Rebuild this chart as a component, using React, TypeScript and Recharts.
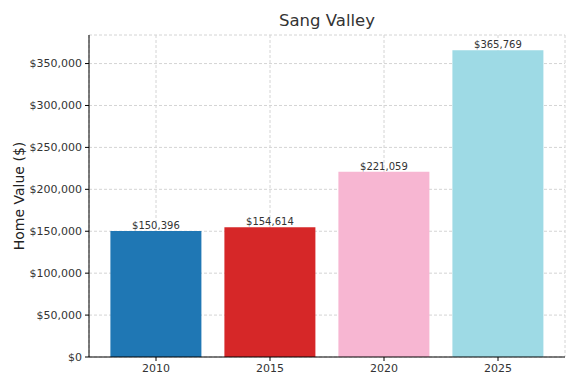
import React from 'react';
import { BarChart, Bar, XAxis, YAxis, CartesianGrid, Cell, LabelList, Label } from 'recharts';

const years = ['2010', '2015', '2020', '2025'];
const homeValues = [150396, 154614, 221059, 365769];
const barColors = ['#1f77b4', '#d62728', '#f7b6d2', '#9edae5'];
const yTicks = [0, 50000, 100000, 150000, 200000, 250000, 300000, 350000];

const data = years.map((year, i) => ({ year, value: homeValues[i] }));

const money = (v: number) => `$${Number(v).toLocaleString('en-US')}`;

const FONT = 'DejaVu Sans, sans-serif';

const App = () => {
  return (
    <div style={{ position: 'absolute', left: 0, top: 0, width: 580, height: 386, background: '#fff', fontFamily: FONT }}>
      <div
        style={{
          position: 'absolute',
          top: 10,
          left: 89,
          width: 476,
          textAlign: 'center',
          fontSize: 16.5,
          color: '#333',
          lineHeight: '22px',
        }}
      >
        Sang Valley
      </div>
      <BarChart
        width={580}
        height={386}
        data={data}
        margin={{ top: 35, right: 15, bottom: 0, left: 0 }}
        barCategoryGap="10%"
      >
        <CartesianGrid strokeDasharray="3 2" stroke="#d4d4d4" />
        <XAxis
          dataKey="year"
          padding={{ left: 10, right: 10 }}
          height={29}
          tickSize={4}
          tickMargin={3}
          axisLine={{ stroke: '#000' }}
          tickLine={{ stroke: '#000' }}
          tick={{ fill: '#333', fontSize: 11, fontFamily: FONT }}
        />
        <YAxis
          width={89}
          domain={[0, 384057]}
          ticks={yTicks}
          tickFormatter={money}
          tickSize={4}
          tickMargin={3}
          axisLine={{ stroke: '#000' }}
          tickLine={{ stroke: '#000' }}
          tick={{ fill: '#333', fontSize: 11, fontFamily: FONT }}
        >
          <Label
            value="Home Value ($)"
            angle={-90}
            position="insideLeft"
            offset={19}
            style={{ fill: '#222', fontSize: 14, fontFamily: FONT, textAnchor: 'middle' }}
          />
        </YAxis>
        <Bar dataKey="value" isAnimationActive={false}>
          {data.map((d, i) => (
            <Cell key={d.year} fill={barColors[i]} />
          ))}
          <LabelList
            dataKey="value"
            position="top"
            offset={2}
            formatter={(v: any) => money(v)}
            style={{ fill: '#333', fontSize: 10, fontFamily: FONT }}
          />
        </Bar>
      </BarChart>
    </div>
  );
};

export default App;
